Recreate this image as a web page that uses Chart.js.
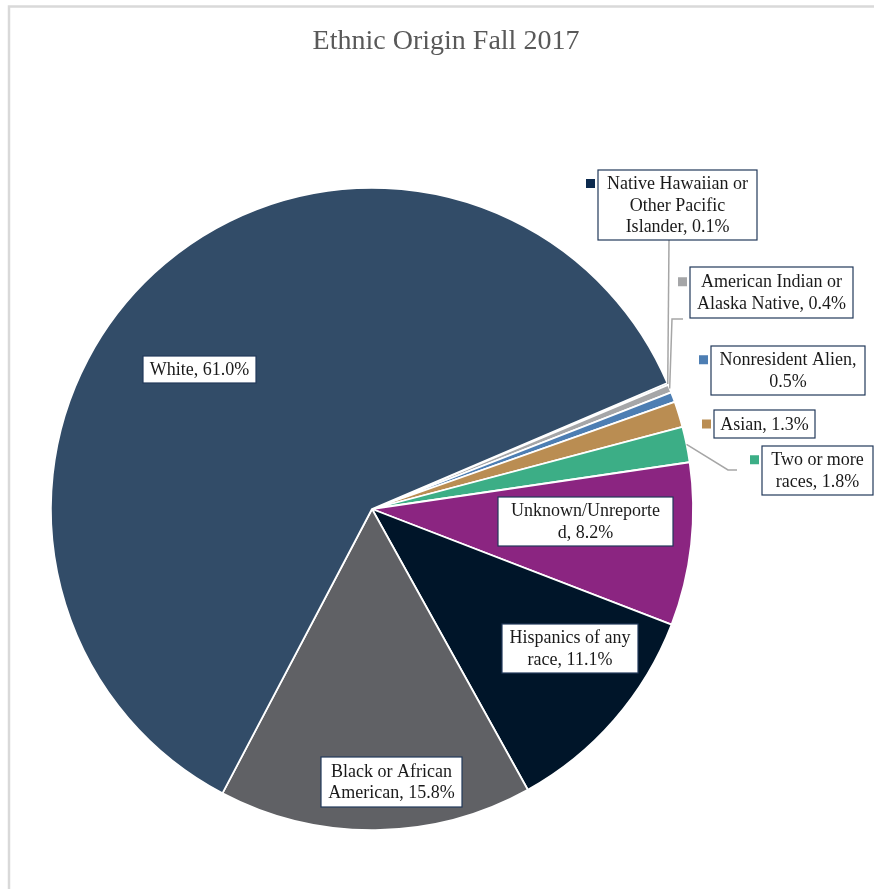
<!DOCTYPE html>
<html>
<head>
<meta charset="utf-8">
<script src="https://cdn.jsdelivr.net/npm/chart.js@4/dist/chart.umd.min.js"></script>
<style>
  html, body { margin: 0; padding: 0; background: #fff; }
  canvas { display: block; }
</style>
</head>
<body>
<canvas id="ethnicChart" width="874" height="889"></canvas>
<script>
const categories = ['Native Hawaiian or Other Pacific Islander', 'American Indian or Alaska Native',
    'Nonresident Alien', 'Asian', 'Two or more races', 'Unknown/Unreported',
    'Hispanics of any race', 'Black or African American', 'White'];
const percents = [0.1, 0.4, 0.5, 1.3, 1.8, 8.2, 11.1, 15.8, 61.0];
// wrapped label text, {v} is replaced by the value
const labelLines = [
    ['Native Hawaiian or', 'Other Pacific', 'Islander, {v}'],
    ['American Indian or', 'Alaska Native, {v}'],
    ['Nonresident Alien,', '{v}'],
    ['Asian, {v}'],
    ['Two or more', 'races, {v}'],
    ['Unknown/Unreporte', 'd, {v}'],
    ['Hispanics of any', 'race, {v}'],
    ['Black or African', 'American, {v}'],
    ['White, {v}']
];
const chartTitle = 'Ethnic Origin Fall 2017';

const colors = ['#0c2a4e', '#a5a6a8', '#4d7eb3', '#ba8d52', '#3cae86', '#8b2581', '#001529', '#606165', '#324c68'];

// label boxes: centre offset from pie centre, box size, key square, leader elbows
const labelLayout = [
    {dx: 305.5, dy: -304, w: 159, h: 70, key: true, leader: [[297, -269]]},
    {dx: 399.5, dy: -216.5, w: 163, h: 51, key: true, leader: [[300, -190], [311, -190]]},
    {dx: 416, dy: -138.5, w: 154, h: 49, key: true},
    {dx: 392.5, dy: -85, w: 101, h: 28, key: true},
    {dx: 445.5, dy: -38.5, w: 111, h: 49, key: true, leader: [[356, -39], [365, -39]]},
    {dx: 213.5, dy: 12.5, w: 175, h: 49},
    {dx: 198, dy: 139.5, w: 136, h: 49},
    {dx: 19.5, dy: 273, w: 141, h: 50},
    {dx: -172.5, dy: -139.5, w: 113, h: 27}
];

const FONT = '"Liberation Serif", "DejaVu Serif", serif';

const frameAndTitle = {
    id: 'frameAndTitle',
    beforeDraw(chart) {
        const c = chart.ctx;
        c.save();
        c.fillStyle = '#fff';
        c.fillRect(0, 0, chart.width, chart.height);
        c.strokeStyle = '#d9d9d9';
        c.lineWidth = 2.5;
        c.beginPath();
        c.moveTo(9, chart.height);
        c.lineTo(9, 6.5);
        c.lineTo(chart.width, 6.5);
        c.stroke();
        c.fillStyle = '#595959';
        c.font = '28px ' + FONT;
        c.textAlign = 'center';
        c.textBaseline = 'middle';
        c.fillText(chartTitle, 446, 42);
        c.restore();
    }
};

const pieLabels = {
    id: 'pieLabels',
    afterDatasetsDraw(chart) {
        const c = chart.ctx;
        const meta = chart.getDatasetMeta(0);
        const values = chart.data.datasets[0].data;
        c.save();
        meta.data.forEach((arc, i) => {
            const lay = labelLayout[i];
            const cx = arc.x + lay.dx, cy = arc.y + lay.dy;
            const left = cx - lay.w / 2, top = cy - lay.h / 2;
            const lines = labelLines[i].map(s => s.replace('{v}', values[i].toFixed(1) + '%'));
            const lh = 21.5;

            if (lay.leader) {
                const mid = (arc.startAngle + arc.endAngle) / 2;
                c.strokeStyle = '#a6a6a6';
                c.lineWidth = 1.5;
                c.beginPath();
                c.moveTo(arc.x + Math.cos(mid) * arc.outerRadius, arc.y + Math.sin(mid) * arc.outerRadius);
                lay.leader.forEach(p => c.lineTo(arc.x + p[0], arc.y + p[1]));
                c.stroke();
            }

            c.fillStyle = '#fff';
            c.fillRect(left, top, lay.w, lay.h);
            c.strokeStyle = '#22395a';
            c.lineWidth = 1.2;
            c.strokeRect(left, top, lay.w, lay.h);

            const firstY = cy - (lines.length - 1) * lh / 2;
            if (lay.key) {
                c.fillStyle = colors[i];
                c.fillRect(left - 12, firstY - 4.5, 9, 9);
            }
            c.fillStyle = '#1a1a1a';
            c.font = '18px ' + FONT;
            c.textAlign = 'center';
            c.textBaseline = 'middle';
            lines.forEach((t, k) => c.fillText(t, cx, firstY + k * lh + 1));
        });
        c.restore();
    }
};

const ctx = document.getElementById('ethnicChart');
new Chart(ctx, {
    type: 'pie',
    data: {
        labels: categories,
        datasets: [{
            data: percents,
            backgroundColor: colors,
            borderColor: '#ffffff',
            borderWidth: 1.8
        }]
    },
    options: {
        responsive: false,
        animation: false,
        rotation: 66.9,
        layout: {
            padding: {left: 50, top: 187, right: 180, bottom: 58}
        },
        plugins: {
            legend: {display: false},
            tooltip: {enabled: false},
            title: {display: false}
        }
    },
    plugins: [frameAndTitle, pieLabels]
});
</script>
</body>
</html>
